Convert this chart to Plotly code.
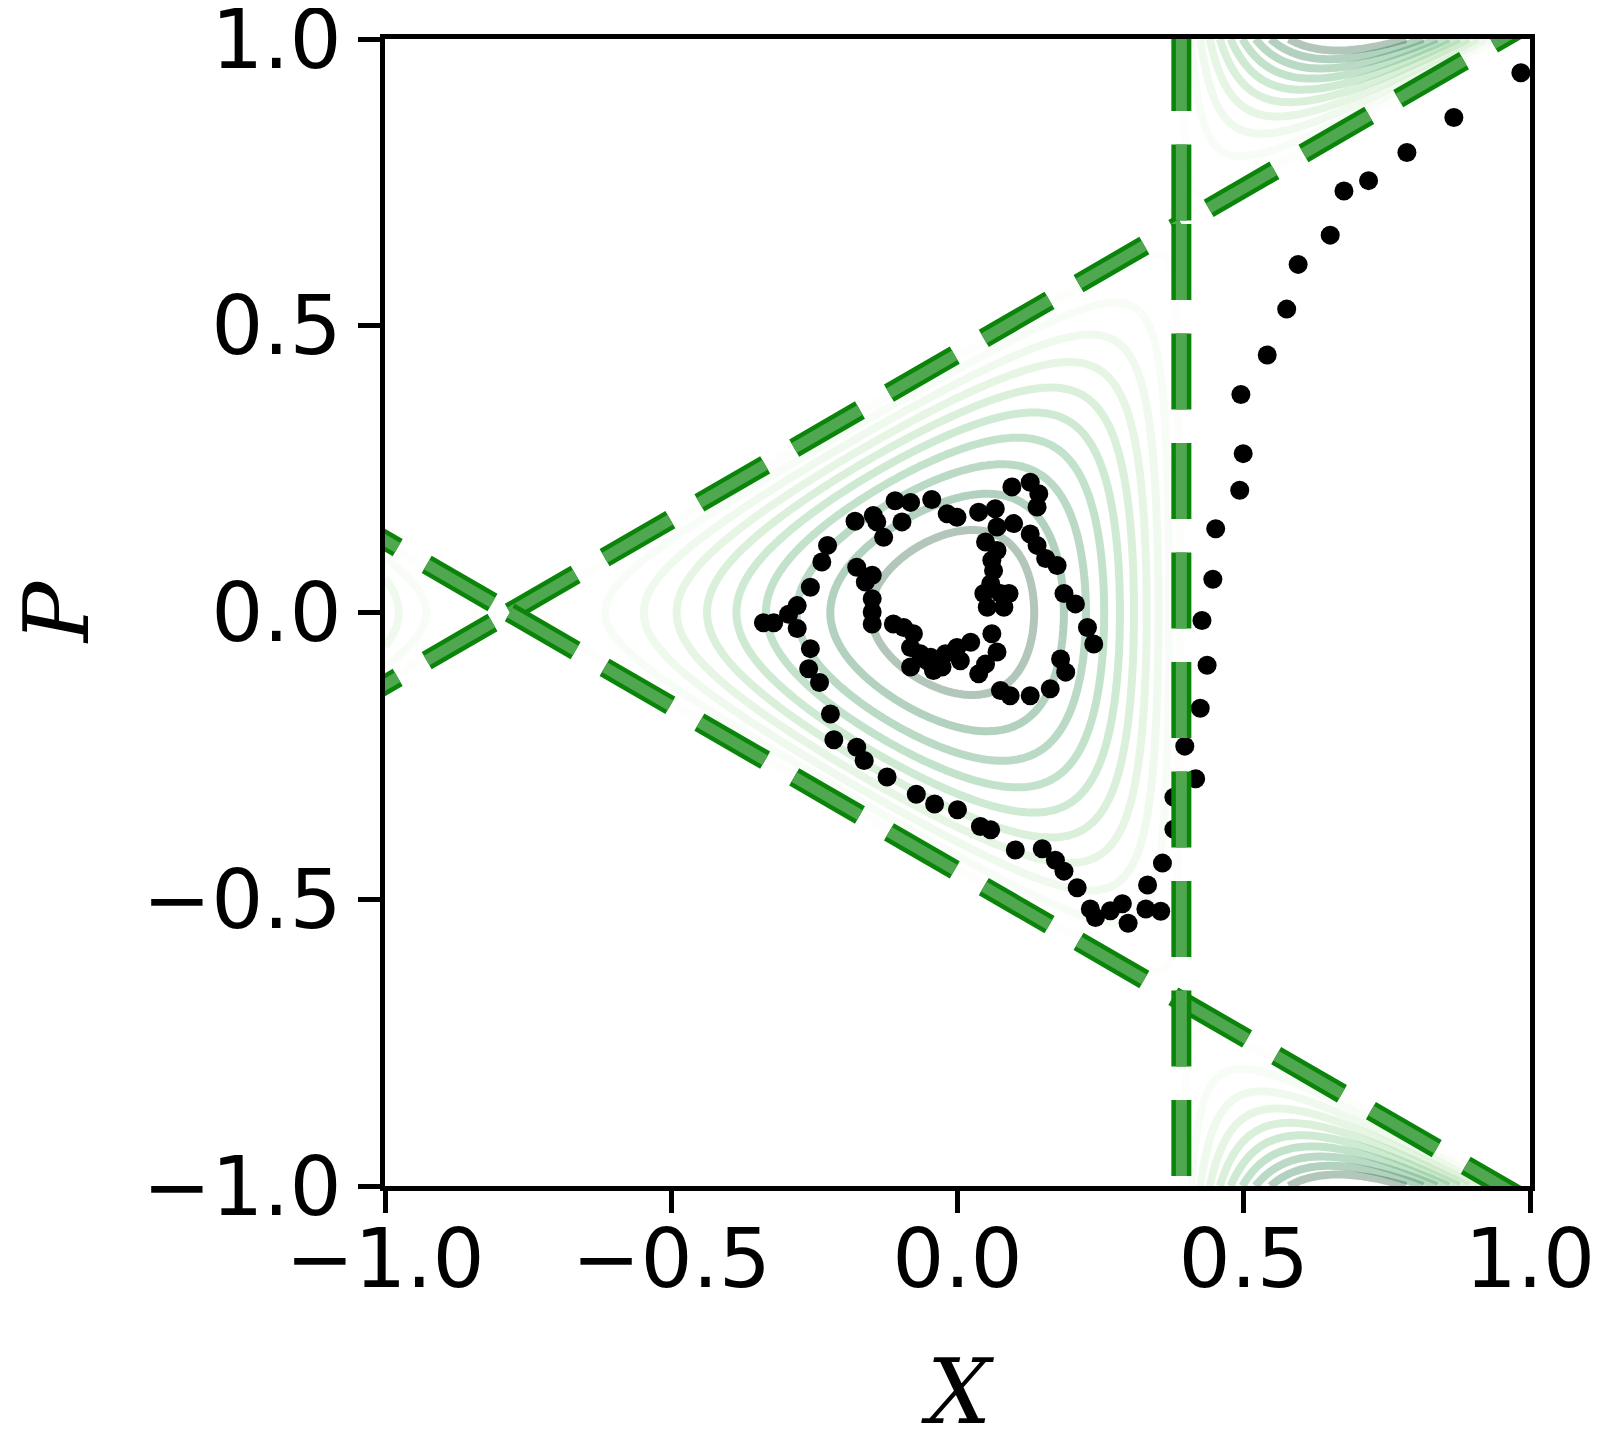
import numpy as np
import plotly.graph_objects as go

# ---------------- data ----------------
traj_x = [0.984, 0.867, 0.785, 0.718, 0.675, 0.651, 0.595, 0.575, 0.541, 0.495,
          0.499, 0.493, 0.451, 0.446, 0.427, 0.436, 0.424, 0.397, 0.416, 0.378,
          0.378, 0.358, 0.332, 0.355, 0.329, 0.298, 0.288, 0.267, 0.241, 0.232,
          0.209, 0.186, 0.171, 0.148, 0.101, 0.058, 0.040, 0.000, -0.040, -0.072,
          -0.123, -0.163, -0.176, -0.216, -0.222, -0.241, -0.260, -0.257, -0.280, -0.295,
          -0.280, -0.321, -0.339, -0.257, -0.237, -0.227, -0.179, -0.147, -0.141, -0.129,
          -0.109, -0.097, -0.082, -0.045, -0.018, -0.001, 0.037, 0.066, 0.095, 0.127,
          0.142, 0.139, 0.098, 0.069, 0.049, 0.069, 0.127, 0.139, 0.154, 0.174,
          0.186, 0.206, 0.227, 0.238, 0.180, 0.189, 0.162, 0.127, 0.092, 0.075,
          0.060, 0.063, 0.058, 0.046, 0.075, 0.090, 0.052, 0.081, 0.060, 0.069,
          0.049, 0.037, -0.176, -0.149, -0.161, -0.149, -0.149, -0.149, -0.112, -0.094,
          -0.077, -0.082, -0.065, -0.082, -0.053, -0.047, -0.021, -0.001, 0.023, -0.027,
          0.005, -0.042]
traj_p = [0.941, 0.863, 0.802, 0.753, 0.735, 0.658, 0.607, 0.529, 0.449, 0.380,
          0.277, 0.213, 0.146, 0.058, -0.014, -0.092, -0.167, -0.233, -0.290, -0.322,
          -0.378, -0.437, -0.475, -0.521, -0.517, -0.542, -0.508, -0.520, -0.532, -0.517,
          -0.480, -0.451, -0.432, -0.412, -0.414, -0.379, -0.373, -0.344, -0.334, -0.317,
          -0.287, -0.258, -0.235, -0.222, -0.177, -0.122, -0.098, -0.063, -0.028, -0.003,
          0.012, -0.018, -0.018, 0.044, 0.088, 0.117, 0.159, 0.169, 0.158, 0.131,
          0.195, 0.158, 0.192, 0.197, 0.172, 0.166, 0.175, 0.181, 0.219, 0.227,
          0.207, 0.184, 0.155, 0.149, 0.123, 0.108, 0.137, 0.117, 0.094, 0.082,
          0.033, 0.015, -0.026, -0.055, -0.081, -0.104, -0.133, -0.145, -0.145, -0.136,
          0.091, 0.073, 0.050, 0.033, 0.033, 0.033, 0.009, 0.009, -0.037, -0.069,
          -0.090, -0.107, 0.079, 0.065, 0.053, 0.024, 0.001, -0.020, -0.020, -0.026,
          -0.037, -0.061, -0.072, -0.095, -0.084, -0.078, -0.072, -0.061, -0.052, -0.095,
          -0.084, -0.101]

R_SADDLE = 0.391                      # saddle-point scale of the separatrix triangle
contour_levels = [0.02, 0.04, 0.06, 0.08, 0.10, 0.12, 0.14, 0.16, 0.18, 0.20]
tick_vals = [-1.0, -0.5, 0.0, 0.5, 1.0]
tick_text = ["\u22121.0", "\u22120.5", "0.0", "0.5", "1.0"]
x_title = "X"
y_title = "P"

# ---------------- helpers ----------------
greens = [(247, 252, 245), (229, 245, 224), (199, 233, 192), (161, 217, 155),
          (116, 196, 118), (65, 171, 93), (35, 139, 69), (0, 109, 44), (0, 68, 27)]


def greens_r(t, alpha):
    t = 1.0 - min(max(t, 0.0), 1.0)
    pos = t * (len(greens) - 1)
    i = min(int(pos), len(greens) - 2)
    f = pos - i
    c = [round(greens[i][k] + (greens[i + 1][k] - greens[i][k]) * f) for k in range(3)]
    return f"rgba({c[0]},{c[1]},{c[2]},{alpha})"


fig = go.Figure()

# field for the contours
c3 = 1.0 / (3.0 * R_SADDLE)
gx = np.linspace(-1.0, 1.0, 401)
gp = np.linspace(-1.0, 1.0, 401)
GX, GP = np.meshgrid(gx, gp)
field = GX ** 2 + GP ** 2 + c3 * (GX ** 3 - 3.0 * GX * GP ** 2)

lmin, lmax = contour_levels[0], contour_levels[-1]
for lev in contour_levels:
    fig.add_trace(go.Contour(
        x=gx, y=gp, z=field,
        contours=dict(start=lev, end=lev, size=1.0, coloring="none"),
        line=dict(color=greens_r((lev - lmin) / (lmax - lmin), 0.3), width=8, smoothing=1),
        showscale=False, hoverinfo="skip", showlegend=False,
    ))

# trajectory dots
fig.add_trace(go.Scatter(
    x=traj_x, y=traj_p, mode="markers",
    marker=dict(size=19, color="black", line=dict(width=0)),
    showlegend=False, hoverinfo="skip",
))

# separatrix (dashed triangle)
PX = 572.5  # px per data unit (for dash phase offsets)
s3 = np.sqrt(3.0)
A = np.array([-2 * R_SADDLE, 0.0])
B = np.array([R_SADDLE, s3 * R_SADDLE])
C = np.array([R_SADDLE, -s3 * R_SADDLE])
du = np.array([np.cos(np.pi / 6), np.sin(np.pi / 6)])
dd = np.array([np.cos(np.pi / 6), -np.sin(np.pi / 6)])
segments = [
    (A, B),
    (B + 31.5 / PX * du, B + 2.0 * du),
    (A - 20 / PX * du, A - 1.0 * du),
    (A, C),
    (C, C + 2.0 * dd),
    (A - 20 / PX * dd, A - 1.0 * dd),
    (np.array([R_SADDLE, 1.0 + 4 / PX]), B),
    (B, np.array([R_SADDLE, -1.3])),
]
for (p0, p1) in segments:
    for col, w in (("#0a850a", 20), ("#4fa74f", 11)):
        fig.add_trace(go.Scatter(
            x=[p0[0], p1[0]], y=[p0[1], p1[1]], mode="lines",
            line=dict(color=col, width=w, dash="76px,33.5px"),
            showlegend=False, hoverinfo="skip",
        ))

axis_common = dict(
    range=[-1.0, 1.0], tickvals=tick_vals, ticktext=tick_text,
    ticks="outside", ticklen=22, tickwidth=5, tickcolor="black",
    showline=True, linewidth=5, linecolor="black", mirror=True,
    showgrid=False, zeroline=False, automargin=False,
    ticklabeloverflow="allow",
    tickfont=dict(family="DejaVu Sans", size=82, color="black"),
)

# the page body has an 8px margin: figure is sized so it fits inside the window
fig.update_layout(
    width=1592, height=1418,
    margin=dict(l=377, r=70, t=31, b=240),
    paper_bgcolor="white", plot_bgcolor="white",
    xaxis=dict(**axis_common, ticklabelstandoff=-24),
    yaxis=dict(**axis_common),
    annotations=[
        dict(text=f"<i>{x_title}</i>", xref="paper", yref="paper", x=0.5, y=-0.1794,
             xanchor="center", yanchor="middle", showarrow=False,
             font=dict(family="DejaVu Serif", size=90, color="black")),
        dict(text=f"<i>{y_title}</i>", xref="paper", yref="paper", x=-0.2866, y=0.5,
             xanchor="center", yanchor="middle", showarrow=False, textangle=-90,
             font=dict(family="DejaVu Serif", size=90, color="black")),
    ],
)

fig.write_html("out.html")
